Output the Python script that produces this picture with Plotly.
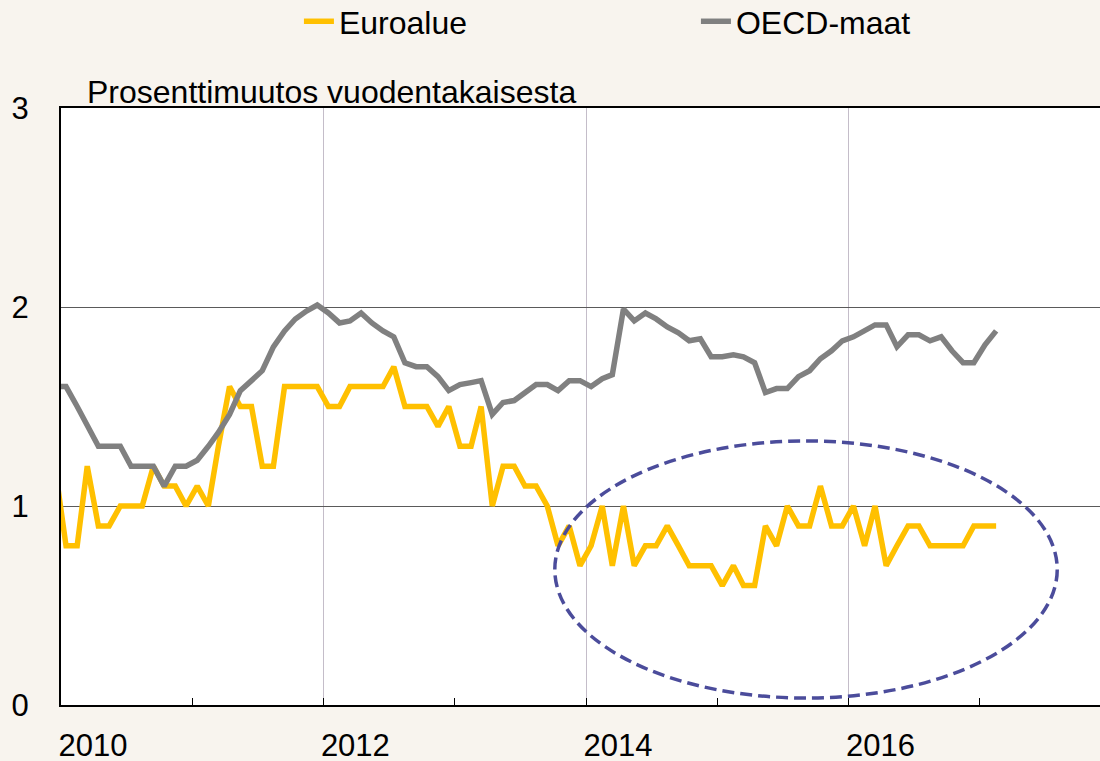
import pandas as pd
import plotly.graph_objects as go

# Monthly observations, Dec 2009 .. Feb 2017 (mid-month)
months = [d + pd.Timedelta(days=14) for d in pd.date_range("2009-12-01", "2017-02-01", freq="MS")]

euroalue = [1.2,
            0.8, 0.8, 1.2, 0.9, 0.9, 1.0, 1.0, 1.0, 1.2, 1.1, 1.1, 1.0,
            1.1, 1.0, 1.3, 1.6, 1.5, 1.5, 1.2, 1.2, 1.6, 1.6, 1.6, 1.6,
            1.5, 1.5, 1.6, 1.6, 1.6, 1.6, 1.7, 1.5, 1.5, 1.5, 1.4, 1.5,
            1.3, 1.3, 1.5, 1.0, 1.2, 1.2, 1.1, 1.1, 1.0, 0.8, 0.9, 0.7,
            0.8, 1.0, 0.7, 1.0, 0.7, 0.8, 0.8, 0.9, 0.8, 0.7, 0.7, 0.7,
            0.6, 0.7, 0.6, 0.6, 0.9, 0.8, 1.0, 0.9, 0.9, 1.1, 0.9, 0.9,
            1.0, 0.8, 1.0, 0.7, 0.8, 0.9, 0.9, 0.8, 0.8, 0.8, 0.8, 0.9,
            0.9, 0.9]

oecd = [1.6,
        1.6, 1.5, 1.4, 1.3, 1.3, 1.3, 1.2, 1.2, 1.2, 1.1, 1.2, 1.2,
        1.23, 1.3, 1.37, 1.46, 1.58, 1.63, 1.68, 1.8, 1.88, 1.94, 1.98, 2.01,
        1.97, 1.92, 1.93, 1.97, 1.92, 1.88, 1.85, 1.72, 1.70, 1.70, 1.65, 1.58,
        1.61, 1.62, 1.63, 1.46, 1.52, 1.53, 1.57, 1.61, 1.61, 1.58, 1.63, 1.63,
        1.60, 1.64, 1.66, 1.99, 1.93, 1.97, 1.94, 1.90, 1.87, 1.83, 1.84, 1.75,
        1.75, 1.76, 1.75, 1.72, 1.57, 1.59, 1.59, 1.65, 1.68, 1.74, 1.78, 1.83,
        1.85, 1.88, 1.91, 1.91, 1.80, 1.86, 1.86, 1.83, 1.85, 1.78, 1.72, 1.72,
        1.81, 1.88]

year_ticks = ["2010-01-01", "2012-01-01", "2014-01-01", "2016-01-01"]
year_labels = ["2010", "2012", "2014", "2016"]
y_ticks = [0, 1, 2, 3]
title_text = "Prosenttimuutos vuodentakaisesta"

BG = "#f8f4ee"
FONT = "Liberation Sans, Arial, sans-serif"

fig = go.Figure()
fig.add_trace(go.Scatter(x=months, y=euroalue, name="Euroalue", mode="lines",
                         line=dict(color="#FFC000", width=5.5)))
fig.add_trace(go.Scatter(x=months, y=oecd, name="OECD-maat", mode="lines",
                         line=dict(color="#808080", width=5.5)))

# highlighted region (ellipse)
fig.add_shape(type="circle", xref="x", yref="y",
              x0="2013-10-06", x1="2017-08-04", y0=0.035, y1=1.327,
              line=dict(color="#4b4c9b", width=3.5, dash="12px,6px"),
              layer="above")

fig.add_annotation(text=title_text, xref="paper", yref="paper", x=0, y=1,
                   xanchor="left", yanchor="bottom", xshift=24, yshift=-4,
                   showarrow=False, font=dict(size=32, color="black", family=FONT))

fig.update_layout(
    width=1100, height=761,
    margin=dict(l=61, r=0, t=108, b=56, autoexpand=False),
    paper_bgcolor=BG, plot_bgcolor="white",
    font=dict(family=FONT, size=31, color="black"),
    showlegend=True,
    legend=dict(orientation="h", x=0.229, y=1.191, yanchor="top", xanchor="left",
                entrywidth=352, font=dict(size=32), bgcolor="rgba(0,0,0,0)"),
    xaxis=dict(
        type="date", range=["2010-01-01", "2017-12-01"], automargin=False,
        tickmode="array", tickvals=year_ticks, ticktext=year_labels,
        ticks="inside", ticklen=7, tickcolor="black", tickwidth=1,
        ticklabelshift=32, ticklabelstandoff=12,
        showgrid=True, gridcolor="#c4bdc9", gridwidth=1.2,
        minor=dict(tickmode="linear", tick0="2010-01-01", dtick="M12",
                   ticks="inside", ticklen=7, tickcolor="black", showgrid=False),
        showline=True, linecolor="black", linewidth=2, mirror=True,
        zeroline=False, tickfont=dict(size=31),
    ),
    yaxis=dict(
        range=[0, 3], tickmode="array", tickvals=y_ticks, automargin=False,
        showgrid=True, gridcolor="#5a5a5a", gridwidth=1.2,
        showline=True, linecolor="black", linewidth=2, mirror=False,
        zeroline=False, ticks="", ticklabelstandoff=24, tickfont=dict(size=31),
    ),
)

fig.write_html("out.html", config={"displayModeBar": False},
               post_script="document.body.style.margin='0';document.body.style.padding='0';")
